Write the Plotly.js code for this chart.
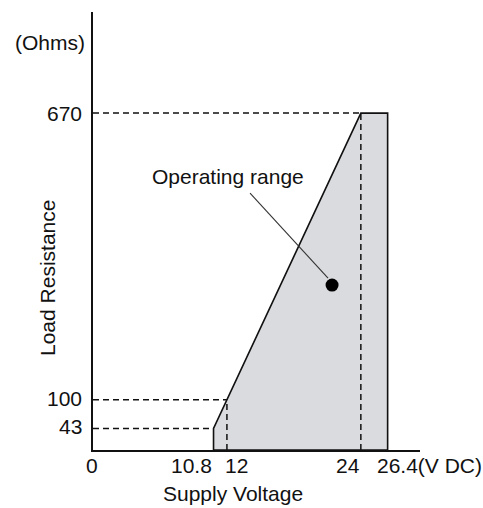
<!DOCTYPE html>
<html>
<head>
<meta charset="utf-8">
<script src="https://cdn.plot.ly/plotly-3.0.1.min.js"></script>
<style>html,body{margin:0;padding:0;background:#fff;}#chart{width:483px;height:508px;}</style>
</head>
<body>
<div id="chart"></div>
<script>
// Operating range corners (Supply Voltage V DC, Load Resistance Ohms)
const rangeVoltage = [10.8, 10.8, 24, 26.4, 26.4, 10.8];
const rangeResist  = [0, 43, 670, 670, 0, 0];

// Reference (dashed) points
const refVoltage = [10.8, 12, 24];
const refResist  = [43, 100, 670];

// Tick labels
const xTickVals = [0, 10.8, 12, 24, 26.4];
const xTickText = ["0", "10.8", "12", "24", "26.4(V DC)"];
const yTickVals = [43, 100, 670];
const yTickText = ["43", "100", "670"];

// Operating point marker and callout
const opPoint = {v: 21.42, r: 328};
const leaderV = [14.07, 21.06];
const leaderR = [511, 342];
const opLabel = {v: 12.14, r: 543, text: "Operating range"};

const FONT = "Liberation Sans, Arial, Helvetica, sans-serif";
const fs = 21;
const ink = "#111";

const traces = [];
traces.push({
  x: rangeVoltage, y: rangeResist, mode: "lines", fill: "toself",
  fillcolor: "#dadbde", line: {color: ink, width: 1.6}, hoverinfo: "skip", showlegend: false
});
// dashed horizontal guides
refVoltage.forEach((v, i) => {
  traces.push({x: [0, v], y: [refResist[i], refResist[i]], mode: "lines",
    line: {color: ink, width: 1.5, dash: "6px,4px"}, showlegend: false, hoverinfo: "skip"});
});
// dashed vertical guides at 12 and 24
[1, 2].forEach(i => {
  traces.push({x: [refVoltage[i], refVoltage[i]], y: [0, refResist[i]], mode: "lines",
    line: {color: ink, width: 1.5, dash: "6px,4px"}, showlegend: false, hoverinfo: "skip"});
});
// leader line
traces.push({x: leaderV, y: leaderR, mode: "lines", line: {color: "#333", width: 1.1},
  showlegend: false, hoverinfo: "skip"});
// operating point
traces.push({x: [opPoint.v], y: [opPoint.r], mode: "markers",
  marker: {color: "#000", size: 13}, showlegend: false, hoverinfo: "skip"});

const annotations = [];
const xAnch = ["center", "right", "left", "right", "left"];
const xSh = [-1, 0, -4, 1, -13];
xTickVals.forEach((v, i) => {
  annotations.push({x: v, xref: "x", y: 0, yref: "y", yanchor: "middle", yshift: -15,
    xanchor: xAnch[i], xshift: xSh[i], text: xTickText[i], showarrow: false,
    font: {family: FONT, size: fs, color: ink}});
});
const ySh = [2, 1, 0];
yTickVals.forEach((v, i) => {
  annotations.push({x: 0, xref: "paper", xanchor: "right", xshift: -9, y: v, yref: "y",
    yanchor: "middle", yshift: ySh[i], text: yTickText[i], showarrow: false, font: {family: FONT, size: fs, color: ink}});
});
annotations.push({x: 0, xref: "paper", xanchor: "right", xshift: -6, y: 811, yref: "y",
  yanchor: "middle", text: "(Ohms)", showarrow: false, font: {family: FONT, size: fs, color: ink}});
annotations.push({x: 0, xref: "paper", xanchor: "center", xshift: -46, y: 342, yref: "y",
  yanchor: "middle", textangle: -90, text: "Load Resistance", showarrow: false,
  font: {family: FONT, size: fs, color: ink}});
annotations.push({x: 12.5, xref: "x", xanchor: "center", y: 0, yref: "y", yanchor: "middle",
  yshift: -43, text: "Supply Voltage", showarrow: false, font: {family: FONT, size: fs, color: ink}});
annotations.push({x: opLabel.v, xref: "x", y: opLabel.r, yref: "y", xanchor: "center", yanchor: "middle",
  text: opLabel.text, showarrow: false, font: {family: FONT, size: fs, color: ink}});

const layout = {
  width: 483, height: 508,
  margin: {l: 93, r: 63, t: 12, b: 58, pad: 0},
  paper_bgcolor: "#fff", plot_bgcolor: "#fff",
  showlegend: false,
  xaxis: {range: [0, 29.3], showgrid: false, zeroline: false, showticklabels: false, ticks: "",
    showline: true, linecolor: ink, linewidth: 1.8, fixedrange: true},
  yaxis: {range: [0, 871], showgrid: false, zeroline: false, showticklabels: false, ticks: "",
    showline: true, linecolor: ink, linewidth: 1.8, fixedrange: true},
  annotations: annotations
};

Plotly.newPlot("chart", traces, layout, {displayModeBar: false, staticPlot: true});
</script>
</body>
</html>
